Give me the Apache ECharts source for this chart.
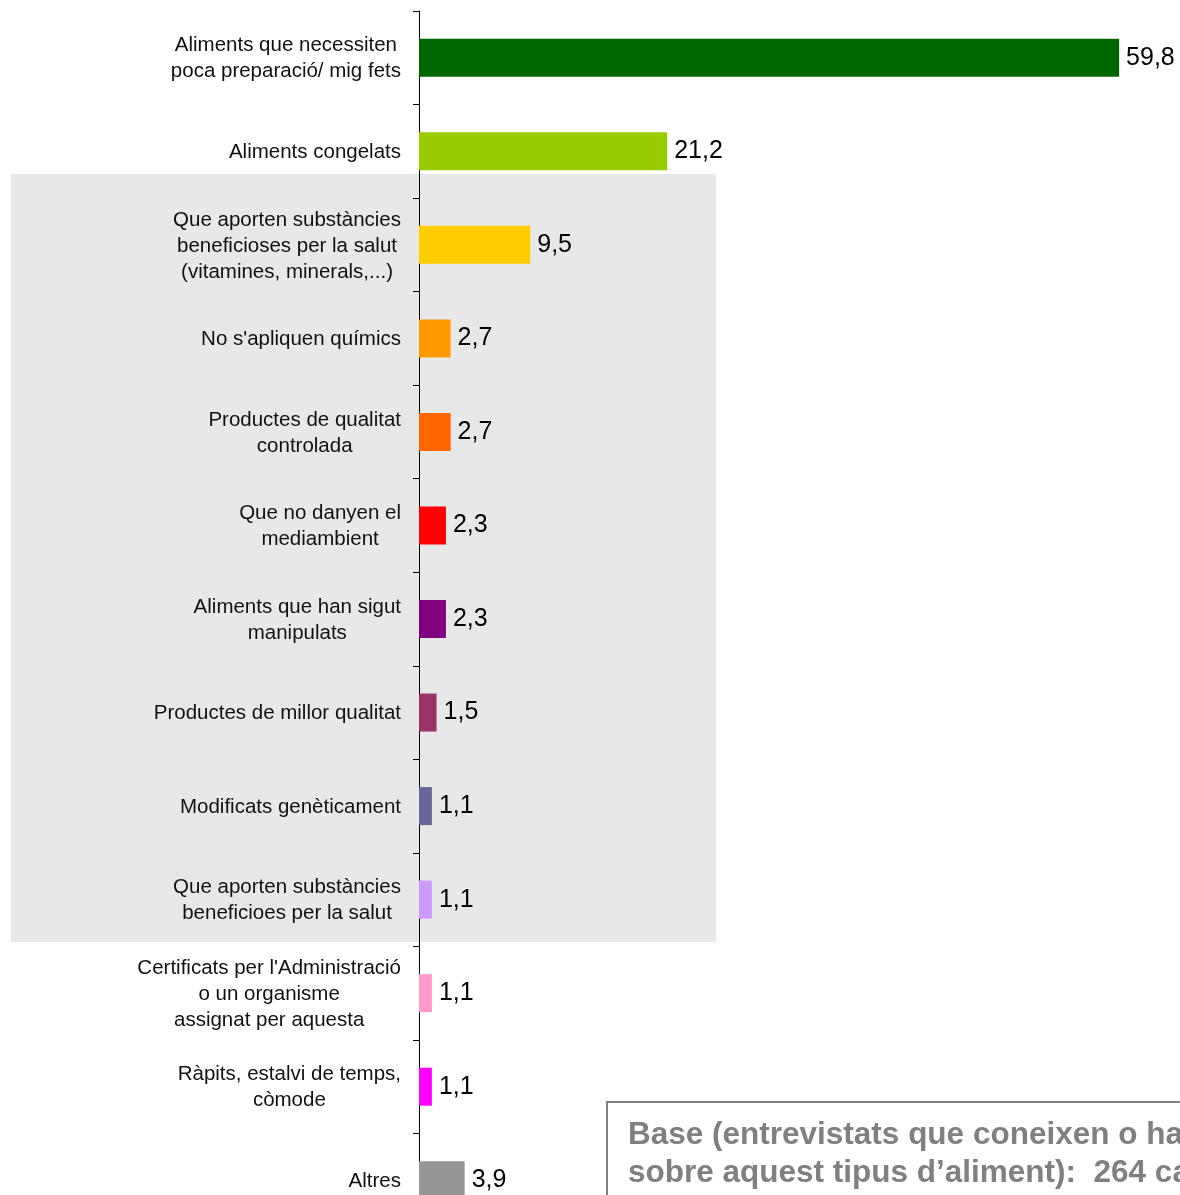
<!DOCTYPE html>
<html>
<head>
<meta charset="utf-8">
<script src="https://cdn.jsdelivr.net/npm/echarts@6/dist/echarts.min.js"></script>
<style>
  html, body { margin: 0; padding: 0; background: #fff; overflow: hidden; }
  #chart { width: 1180px; height: 1195px; }
</style>
</head>
<body>
<div id="chart"></div>
<script>
const categories = [
  'Aliments que necessiten\npoca preparació/ mig fets',
  'Aliments congelats',
  'Que aporten substàncies\nbeneficioses per la salut\n(vitamines, minerals,...)',
  "No s'apliquen químics",
  'Productes de qualitat\ncontrolada',
  'Que no danyen el\nmediambient',
  'Aliments que han sigut\nmanipulats',
  'Productes de millor qualitat',
  'Modificats genèticament',
  'Que aporten substàncies\nbeneficioes per la salut',
  "Certificats per l'Administració\no un organisme\nassignat per aquesta",
  'Ràpits, estalvi de temps,\ncòmode',
  'Altres'
];
const values = [59.8, 21.2, 9.5, 2.7, 2.7, 2.3, 2.3, 1.5, 1.1, 1.1, 1.1, 1.1, 3.9];
const barColors = [
  '#006600', '#99cc00', '#ffcc00', '#ff9900', '#ff6600', '#ff0000', '#800080',
  '#993366', '#666699', '#cc99ff', '#ff99cc', '#ff00ff', '#969696'
];
const baseNote = "Base (entrevistats que coneixen o han sentit parlar\nsobre aquest tipus d\u2019aliment):  264 casos";

const chart = echarts.init(document.getElementById('chart'));

chart.setOption({
  animation: false,
  backgroundColor: '#fff',
  // the last band runs past the bottom edge of the picture
  grid: { left: 419, right: 0, top: 11, bottom: -32, outerBoundsMode: 'none', containLabel: false },
  xAxis: {
    type: 'value',
    min: 0,
    max: 65,
    show: false
  },
  yAxis: {
    type: 'category',
    inverse: true,
    data: categories,
    axisLine: { show: true, lineStyle: { color: '#000', width: 1 } },
    axisTick: { show: true, interval: 0, length: 6, lineStyle: { color: '#000', width: 1 } },
    axisLabel: {
      margin: 18,
      interval: 0,
      formatter: (v) => v.split('\n').map(l => '{c|' + l + '}').join('\n'),
      rich: {
        c: {
          align: 'center',
          fontFamily: 'Liberation Sans, Arial, sans-serif',
          fontSize: 20.5,
          lineHeight: 26,
          padding: [2, 0, 0, 0],
          color: '#111'
        }
      }
    }
  },
  graphic: [
    {
      type: 'rect',
      z: -10,
      shape: { x: 11, y: 174, width: 705, height: 768 },
      style: { fill: '#e8e8e8' }
    },
    {
      type: 'rect',
      z: 10,
      shape: { x: 607, y: 1102, width: 620, height: 130 },
      style: { fill: '#fff', stroke: '#808080', lineWidth: 2 }
    },
    {
      type: 'text',
      z: 11,
      x: 628,
      y: 1116,
      style: {
        text: baseNote,
        fill: '#808080',
        font: 'bold 31.5px Liberation Sans, Arial, sans-serif',
        lineHeight: 38
      }
    }
  ],
  series: [
    {
      type: 'bar',
      barWidth: 38,
      data: values.map((v, i) => ({ value: v, itemStyle: { color: barColors[i] } })),
      label: {
        show: true,
        position: 'right',
        distance: 7,
        formatter: (p) => String(p.value).replace('.', ','),
        fontFamily: 'Liberation Sans, Arial, sans-serif',
        fontSize: 25,
        color: '#000'
      }
    }
  ]
});
</script>
</body>
</html>
